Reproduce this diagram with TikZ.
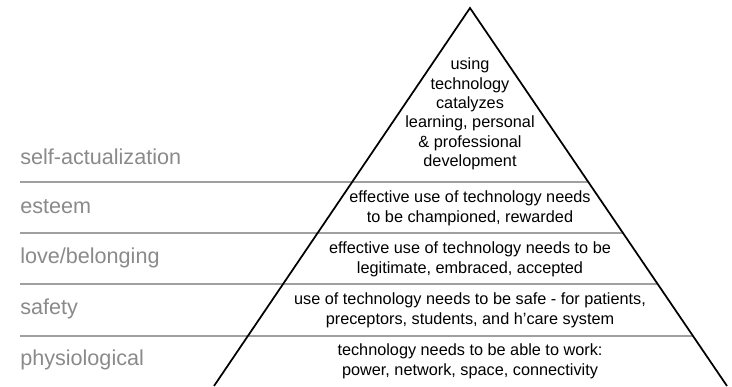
\documentclass[tikz,border=0pt]{standalone}
\usepackage{fontspec}
\setmainfont{Liberation Sans}
\definecolor{bandline}{HTML}{A0A0A0}
\definecolor{labelgray}{HTML}{8A8A8A}
\begin{document}
\begin{tikzpicture}[x=0.75pt,y=-0.75pt,
  level/.style={anchor=west,text=labelgray,font=\fontsize{16.2}{19}\selectfont,inner sep=0pt},
  inner/.style={align=center,font=\fontsize{12.2}{15}\selectfont,inner sep=0pt},
  band/.style={draw=bandline,line width=1.4pt},
  edge/.style={draw=black,line width=1.3pt}]
\useasboundingbox (0,0) rectangle (732,386);
% band separators
\coordinate (l1) at (20,182); \coordinate (r1) at (588,182);
\coordinate (l2) at (20,233); \coordinate (r2) at (623,233);
\coordinate (l3) at (20,284); \coordinate (r3) at (658,284);
\coordinate (l4) at (20,336); \coordinate (r4) at (693,336);
\draw[band] (l1) -- (r1);
\draw[band] (l2) -- (r2);
\draw[band] (l3) -- (r3);
\draw[band] (l4) -- (r4);
% pyramid
\coordinate (apex) at (470,8);
\coordinate (bl) at (214,386);
\coordinate (br) at (727,386);
\draw[edge] (bl) -- (apex) -- (br);
% level labels
\node[level] (selfact) at (20,157) {self-actualization};
\node[level] (esteem) at (20,207) {esteem};
\node[level] (love) at (20,258) {love/belonging};
\node[level] (safety) at (20,309) {safety};
\node[level] (physio) at (20,360) {physiological};
% pyramid texts
\node[inner,font=\fontsize{12.2}{14.6}\selectfont] (t1) at (470,114) {using\\technology\\catalyzes\\learning, personal\\\& professional\\development};
\node[inner] (t2) at (470,208) {effective use of technology needs\\to be championed, rewarded};
\node[inner] (t3) at (470,259) {effective use of technology needs to be\\legitimate, embraced, accepted};
\node[inner] (t4) at (470,310) {use of technology needs to be safe - for patients,\\preceptors, students, and h’care system};
\node[inner] (t5) at (470,361) {technology needs to be able to work:\\power, network, space, connectivity};
\end{tikzpicture}
\end{document}
